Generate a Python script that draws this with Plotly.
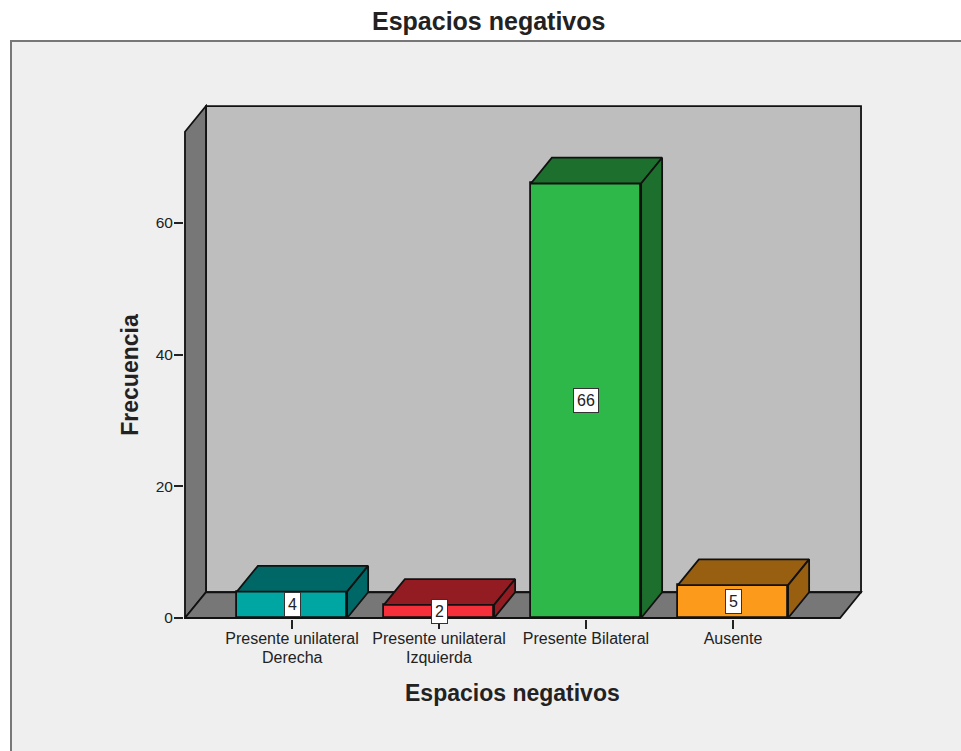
import plotly.graph_objects as go

# Data
categories = ["Presente unilateral", "Presente unilateral", "Presente Bilateral", "Ausente"]
category_second_lines = ["Derecha", "Izquierda", "", ""]
frequencies = [4, 2, 66, 5]
y_ticks = [0, 20, 40, 60]
front_colors = ["#00A6A2", "#F5303A", "#2FB84A", "#FC9A1C"]
shade_colors = ["#006767", "#931C22", "#1C6F2C", "#985F10"]

# Drawing constants
WIDTH, HEIGHT = 961, 751
FONT = "Liberation Sans"
INK = "#222222"
EDGE = "#111111"
EDGE_W = 1.8
PX_PER_CAT = 147.0
PX_PER_UNIT = 6.59
BAR_W = 0.75
DX = 21 / PX_PER_CAT   # oblique depth in category units
DY = 25.8 / PX_PER_UNIT  # oblique depth in frequency units
X_LO, X_HI = -0.728, 3.728  # front edge of the floor
Y_TOP = 73.85

# Plot rectangle (pixels) with a small allowance so outlines are not clipped
left_px, right_px = 184.0, 863.0
top_px, bottom_px = 104.0, 619.5
x_range = [0 - (292 - left_px) / PX_PER_CAT, 0 + (right_px - 292) / PX_PER_CAT]
y_range = [-(bottom_px - 618.5) / PX_PER_UNIT, (618.5 - top_px) / PX_PER_UNIT]


def paper_x(px):
    return (px - left_px) / (right_px - left_px)


def paper_y(px):
    return (bottom_px - px) / (bottom_px - top_px)


def wall(points, fill):
    path = "M " + " L ".join(f"{x},{y}" for x, y in points) + " Z"
    return dict(type="path", path=path, xref="x", yref="y", layer="below",
                fillcolor=fill, line=dict(color=EDGE, width=EDGE_W))


def page_text(text, x, y, size, angle=0):
    return dict(x=paper_x(x), y=paper_y(y), xref="paper", yref="paper",
                xanchor="center", yanchor="middle", text=text, textangle=angle,
                showarrow=False, font=dict(family=FONT, size=size, color=INK))


fig = go.Figure()

# Front faces
fig.add_trace(go.Bar(
    x=list(range(len(frequencies))), y=frequencies, width=BAR_W,
    marker=dict(color=front_colors, line=dict(color=EDGE, width=EDGE_W)),
    hoverinfo="skip", showlegend=False,
))

# Top and side faces of every block
for i, v in enumerate(frequencies):
    l, r = i - BAR_W / 2, i + BAR_W / 2
    fig.add_trace(go.Scatter(
        x=[l, r, r + DX, l + DX, l], y=[v, v, v + DY, v + DY, v],
        mode="lines", fill="toself", fillcolor=shade_colors[i],
        line=dict(color=EDGE, width=EDGE_W), hoverinfo="skip", showlegend=False,
    ))
    fig.add_trace(go.Scatter(
        x=[r, r + DX, r + DX, r, r], y=[0, DY, v + DY, v, 0],
        mode="lines", fill="toself", fillcolor=shade_colors[i],
        line=dict(color=EDGE, width=EDGE_W), hoverinfo="skip", showlegend=False,
    ))

shapes = [
    # Panel behind the chart
    dict(type="rect", xref="paper", yref="paper", layer="below",
         x0=paper_x(11), x1=paper_x(WIDTH + 10), y0=paper_y(HEIGHT + 10), y1=paper_y(41),
         fillcolor="#EFEFEF", line=dict(color="#777777", width=2)),
    # Back wall, side wall and floor
    wall([(X_LO + DX, DY), (X_HI + DX, DY), (X_HI + DX, Y_TOP + DY), (X_LO + DX, Y_TOP + DY)], "#BEBEBE"),
    wall([(X_LO, 0), (X_LO + DX, DY), (X_LO + DX, Y_TOP + DY), (X_LO, Y_TOP)], "#777777"),
    wall([(X_LO, 0), (X_HI, 0), (X_HI + DX, DY), (X_LO + DX, DY)], "#777777"),
]

# Value labels
annotations = [
    dict(x=i, y=v / 2, xref="x", yref="y", text=str(v), showarrow=False,
         font=dict(family=FONT, size=16, color=INK), bgcolor="#FFFFFF",
         bordercolor="#333333", borderwidth=1, borderpad=3)
    for i, v in enumerate(frequencies)
]
# Second line of the category labels, set tighter than a tick label break allows
for i, line in enumerate(category_second_lines):
    if line:
        annotations.append(dict(
            x=i, y=paper_y(658), xref="x", yref="paper", xanchor="center", yanchor="middle",
            text=line, showarrow=False, font=dict(family=FONT, size=16, color=INK),
        ))
annotations += [
    page_text("<b>Espacios negativos</b>", 488, 20.5, 25),
    page_text("<b>Espacios negativos</b>", 512, 693.5, 23),
    page_text("<b>Frecuencia</b>", 130, 375, 23, angle=-90),
]

fig.update_layout(
    width=WIDTH, height=HEIGHT, autosize=False,
    margin=dict(l=left_px, r=WIDTH - right_px, t=top_px, b=HEIGHT - bottom_px, pad=0, autoexpand=False),
    paper_bgcolor="#FFFFFF", plot_bgcolor="rgba(0,0,0,0)",
    font=dict(family=FONT, color=INK),
    shapes=shapes, annotations=annotations, bargap=0,
    xaxis=dict(
        range=x_range, tickmode="array", tickvals=list(range(len(categories))), ticktext=categories,
        ticks="outside", ticklen=9, tickwidth=1.5, tickcolor="#222222", ticklabelstandoff=-4,
        tickfont=dict(family=FONT, size=16, color=INK),
        showgrid=False, zeroline=False, showline=False, tickangle=0, automargin=False,
    ),
    yaxis=dict(
        range=y_range, tickmode="array", tickvals=y_ticks,
        ticks="outside", ticklen=9, tickwidth=1.5, tickcolor="#222222", ticklabelstandoff=-2,
        tickfont=dict(family=FONT, size=15.5, color=INK),
        showgrid=False, zeroline=False, showline=False, automargin=False,
    ),
)

fig.write_html("out.html", config=dict(displayModeBar=False))
